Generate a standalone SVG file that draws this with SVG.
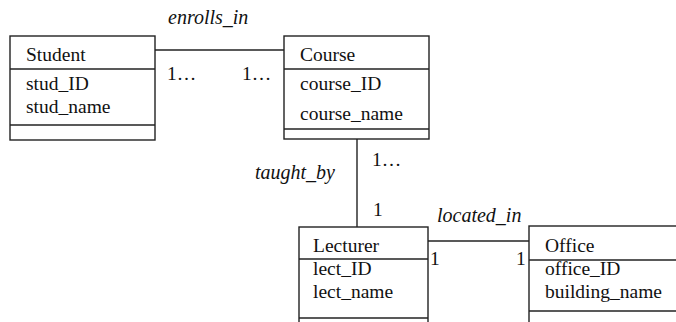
<svg xmlns="http://www.w3.org/2000/svg" width="676" height="322" viewBox="0 0 676 322">
<style>
.box{fill:#fff;stroke:#222;stroke-width:1.4}
.div{stroke:#222;stroke-width:1.4}
.conn{stroke:#222;stroke-width:1.4;fill:none}
.t{font-family:"Liberation Serif","Times New Roman",serif;font-size:19.5px;fill:#111}
.it{font-style:italic;font-size:20px}
</style>
<rect width="676" height="322" fill="#fff"/>
<g id="connectors">
<line class="conn" x1="155" y1="50" x2="284" y2="50"/>
<line class="conn" x1="357" y1="139" x2="357" y2="227"/>
<line class="conn" x1="428" y1="241" x2="529" y2="241"/>
<text class="t it" x="168" y="24">enrolls_in</text>
<text class="t" x="167" y="80">1…</text>
<text class="t" x="242" y="80">1…</text>
<text class="t it" x="255" y="179">taught_by</text>
<text class="t" x="372" y="166">1…</text>
<text class="t" x="373" y="216">1</text>
<text class="t it" x="437" y="222">located_in</text>
<text class="t" x="430" y="265">1</text>
<text class="t" x="516" y="265">1</text>
</g>
<g id="student">
<rect class="box" x="10" y="36" width="145" height="104"/>
<line class="div" x1="10" y1="69" x2="155" y2="69"/>
<line class="div" x1="10" y1="125" x2="155" y2="125"/>
<text class="t" x="26" y="61">Student</text>
<text class="t" x="26" y="90">stud_ID</text>
<text class="t" x="26" y="113">stud_name</text>
</g>
<g id="course">
<rect class="box" x="284" y="36" width="145" height="103"/>
<line class="div" x1="284" y1="69" x2="429" y2="69"/>
<line class="div" x1="284" y1="129" x2="429" y2="129"/>
<text class="t" x="300" y="61">Course</text>
<text class="t" x="300" y="90">course_ID</text>
<text class="t" x="300" y="120">course_name</text>
</g>
<g id="lecturer">
<rect class="box" x="299" y="227" width="129" height="110"/>
<line class="div" x1="299" y1="259" x2="428" y2="259"/>
<line class="div" x1="299" y1="318" x2="428" y2="318"/>
<text class="t" x="313" y="252">Lecturer</text>
<text class="t" x="313" y="275">lect_ID</text>
<text class="t" x="313" y="298">lect_name</text>
</g>
<g id="office">
<rect class="box" x="529" y="226" width="170" height="110"/>
<line class="div" x1="529" y1="260" x2="699" y2="260"/>
<line class="div" x1="529" y1="311" x2="699" y2="311"/>
<text class="t" x="545" y="252">Office</text>
<text class="t" x="545" y="275">office_ID</text>
<text class="t" x="545" y="298">building_name</text>
</g>
</svg>
